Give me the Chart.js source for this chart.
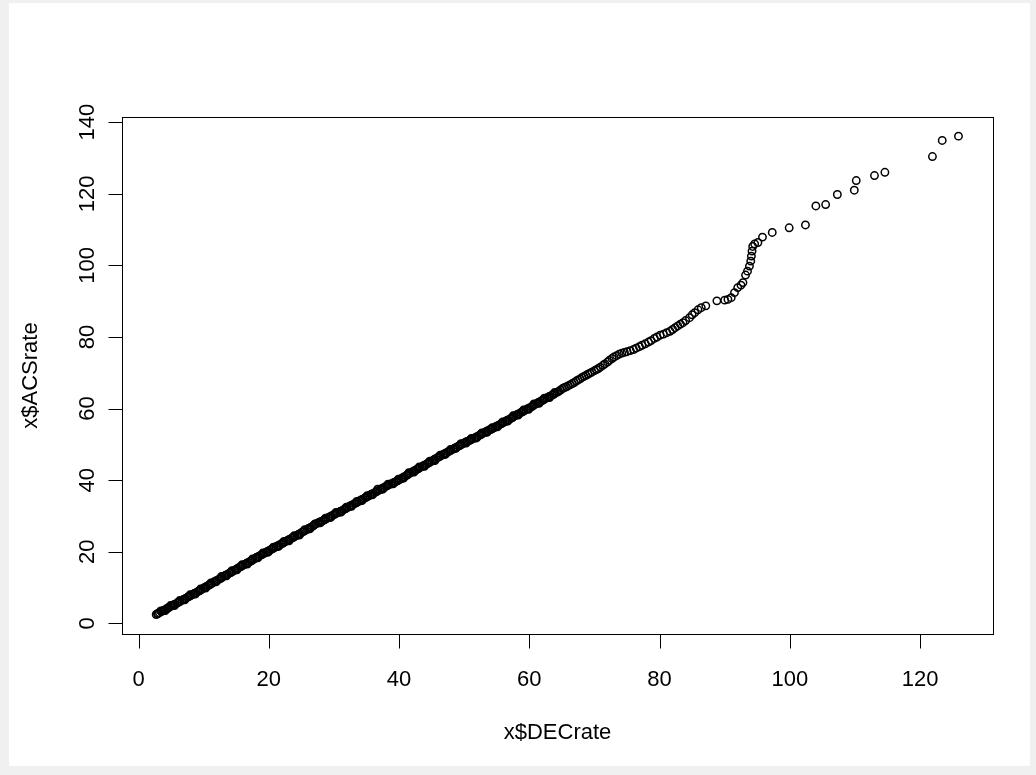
<!DOCTYPE html>
<html>
<head>
<meta charset="utf-8">
<script src="https://cdn.jsdelivr.net/npm/chart.js@4"></script>
<style>
  html, body { margin: 0; padding: 0; background: #f0f0f0; }
  #frame { position: absolute; left: 9px; top: 3px; width: 1021px; height: 763px; background: #fff; }
  canvas { display: block; }
</style>
</head>
<body>
<div id="frame"><canvas id="qqChart" width="1021" height="763"></canvas></div>
<script>
const xTicks = [0, 20, 40, 60, 80, 100, 120];
const yTicks = [0, 20, 40, 60, 80, 100, 120, 140];
const xTitle = 'x$DECrate';
const yTitle = 'x$ACSrate';

// DEC rates (x) and ACS rates (y)
const decRate = [
  2.7, 2.9, 3.0, 3.2, 3.5, 3.7, 3.8, 4.0, 4.3, 4.5,
  4.6, 4.8, 5.1, 5.3, 5.4, 5.6, 5.9, 6.1, 6.2, 6.4,
  6.7, 6.9, 7.0, 7.2, 7.5, 7.7, 7.8, 8.0, 8.3, 8.5,
  8.6, 8.8, 9.1, 9.3, 9.4, 9.6, 9.9, 10.1, 10.2, 10.4,
  10.7, 10.9, 11.0, 11.2, 11.5, 11.7, 11.8, 12.0, 12.3, 12.5,
  12.6, 12.8, 13.1, 13.3, 13.4, 13.6, 13.9, 14.1, 14.2, 14.4,
  14.7, 14.9, 15.0, 15.2, 15.5, 15.7, 15.8, 16.0, 16.3, 16.5,
  16.6, 16.8, 17.1, 17.3, 17.4, 17.6, 17.9, 18.1, 18.2, 18.4,
  18.7, 18.9, 19.0, 19.2, 19.5, 19.7, 19.8, 20.0, 20.3, 20.5,
  20.6, 20.8, 21.1, 21.3, 21.4, 21.6, 21.9, 22.1, 22.2, 22.4,
  22.7, 22.9, 23.0, 23.2, 23.5, 23.7, 23.8, 24.0, 24.3, 24.5,
  24.6, 24.8, 25.1, 25.3, 25.4, 25.6, 25.9, 26.1, 26.2, 26.4,
  26.7, 26.9, 27.0, 27.2, 27.5, 27.7, 27.8, 28.0, 28.3, 28.5,
  28.6, 28.8, 29.1, 29.3, 29.4, 29.6, 29.9, 30.1, 30.2, 30.4,
  30.7, 30.9, 31.0, 31.2, 31.5, 31.7, 31.8, 32.0, 32.3, 32.5,
  32.6, 32.8, 33.1, 33.3, 33.4, 33.6, 33.9, 34.1, 34.2, 34.4,
  34.7, 34.9, 35.0, 35.2, 35.5, 35.7, 35.8, 36.0, 36.3, 36.5,
  36.6, 36.8, 37.1, 37.3, 37.4, 37.6, 37.9, 38.1, 38.2, 38.4,
  38.7, 38.9, 39.0, 39.2, 39.5, 39.7, 39.8, 40.0, 40.3, 40.5,
  40.6, 40.8, 41.1, 41.3, 41.4, 41.6, 41.9, 42.1, 42.2, 42.4,
  42.7, 42.9, 43.0, 43.2, 43.5, 43.7, 43.8, 44.0, 44.3, 44.5,
  44.6, 44.8, 45.1, 45.3, 45.4, 45.6, 45.9, 46.1, 46.2, 46.4,
  46.7, 46.9, 47.0, 47.2, 47.5, 47.7, 47.8, 48.0, 48.3, 48.5,
  48.6, 48.8, 49.1, 49.3, 49.4, 49.6, 49.9, 50.1, 50.2, 50.4,
  50.7, 50.9, 51.0, 51.2, 51.5, 51.7, 51.8, 52.0, 52.3, 52.5,
  52.6, 52.8, 53.1, 53.3, 53.4, 53.6, 53.9, 54.1, 54.2, 54.4,
  54.7, 54.9, 55.0, 55.2, 55.5, 55.7, 55.8, 56.0, 56.3, 56.5,
  56.6, 56.8, 57.1, 57.3, 57.4, 57.6, 57.9, 58.1, 58.2, 58.4,
  58.7, 58.9, 59.0, 59.2, 59.5, 59.7, 59.8, 60.0, 60.3, 60.5,
  60.6, 60.8, 61.1, 61.3, 61.4, 61.6, 61.9, 62.1, 62.2, 62.4,
  62.7, 62.9, 63.0, 63.2, 63.5, 63.7, 63.8, 64.0, 64.3, 64.5,
  64.8, 65.1, 65.4, 65.7, 66.0, 66.3, 66.6, 66.9, 67.2, 67.5,
  67.8, 68.1, 68.4, 68.7, 69.0, 69.3, 69.6, 70.0, 70.3, 70.6,
  70.9, 71.3, 71.6, 72.0, 72.3, 72.7, 73.0, 73.4, 73.8, 74.2,
  74.6, 75.0, 75.5, 76.0, 76.4, 76.9, 77.3, 77.8, 78.3, 78.7,
  79.2, 79.6, 80.1, 80.6, 81.1, 81.6, 82.0, 82.4, 82.8, 83.2,
  83.6, 84.0, 84.6, 85.0, 85.4, 85.9, 86.4, 87.1,
  88.8, 90.0, 90.5, 91.0, 91.5, 92.0, 92.5, 92.8, 93.2, 93.5,
  93.8, 94.0, 94.1, 94.2, 94.3, 94.6, 95.1, 95.8, 97.3, 99.9,
  102.4, 104.0, 105.5, 107.3, 109.9, 110.2, 113.0, 114.6, 121.9, 123.4,
  125.9
];
const acsRate = [
  2.5, 2.7, 2.8, 3.0, 3.3, 3.5, 3.6, 3.8, 4.1, 4.3,
  4.4, 4.6, 4.9, 5.1, 5.2, 5.4, 5.7, 5.9, 6.0, 6.2,
  6.5, 6.7, 6.8, 7.0, 7.3, 7.5, 7.6, 7.8, 8.1, 8.3,
  8.4, 8.6, 8.9, 9.1, 9.2, 9.4, 9.8, 10.0, 10.1, 10.3,
  10.6, 10.8, 10.9, 11.1, 11.5, 11.7, 11.8, 12.0, 12.3, 12.5,
  12.6, 12.8, 13.2, 13.4, 13.5, 13.7, 14.0, 14.2, 14.3, 14.5,
  14.8, 15.0, 15.1, 15.4, 15.7, 15.9, 16.0, 16.2, 16.5, 16.7,
  16.8, 17.0, 17.3, 17.5, 17.6, 17.8, 18.2, 18.4, 18.5, 18.7,
  19.0, 19.2, 19.3, 19.5, 19.8, 20.0, 20.1, 20.3, 20.6, 20.8,
  20.9, 21.1, 21.4, 21.6, 21.7, 21.9, 22.2, 22.4, 22.5, 22.7,
  23.0, 23.2, 23.3, 23.5, 23.8, 24.0, 24.1, 24.3, 24.6, 24.8,
  24.9, 25.1, 25.5, 25.7, 25.8, 26.0, 26.3, 26.5, 26.6, 26.8,
  27.1, 27.4, 27.6, 27.8, 28.0, 28.2, 28.3, 28.5, 28.7, 28.9,
  29.0, 29.2, 29.5, 29.7, 29.8, 30.0, 30.3, 30.5, 30.6, 30.8,
  31.0, 31.2, 31.3, 31.5, 31.8, 32.0, 32.1, 32.3, 32.6, 32.8,
  32.9, 33.1, 33.4, 33.6, 33.7, 33.9, 34.2, 34.4, 34.5, 34.7,
  35.0, 35.2, 35.3, 35.5, 35.8, 36.0, 36.1, 36.3, 36.6, 36.8,
  36.9, 37.1, 37.4, 37.6, 37.7, 37.9, 38.2, 38.4, 38.5, 38.7,
  38.9, 39.1, 39.2, 39.4, 39.6, 39.8, 39.9, 40.1, 40.4, 40.6,
  40.8, 41.0, 41.3, 41.5, 41.7, 41.9, 42.2, 42.4, 42.5, 42.7,
  43.0, 43.2, 43.3, 43.5, 43.8, 44.0, 44.1, 44.3, 44.6, 44.8,
  44.9, 45.1, 45.4, 45.6, 45.8, 46.0, 46.3, 46.5, 46.6, 46.8,
  47.1, 47.3, 47.4, 47.6, 47.9, 48.1, 48.2, 48.4, 48.7, 48.9,
  49.0, 49.2, 49.5, 49.7, 49.8, 50.0, 50.3, 50.5, 50.6, 50.8,
  51.0, 51.2, 51.3, 51.5, 51.7, 51.9, 52.0, 52.2, 52.5, 52.7,
  52.8, 53.0, 53.3, 53.5, 53.6, 53.8, 54.1, 54.2, 54.3, 54.5,
  54.8, 55.0, 55.1, 55.3, 55.6, 55.8, 55.9, 56.1, 56.4, 56.6,
  56.7, 56.9, 57.2, 57.4, 57.5, 57.8, 58.1, 58.3, 58.4, 58.6,
  58.9, 59.1, 59.2, 59.4, 59.7, 59.9, 60.0, 60.2, 60.5, 60.7,
  60.9, 61.1, 61.4, 61.6, 61.7, 61.9, 62.2, 62.4, 62.5, 62.7,
  63.0, 63.2, 63.3, 63.5, 63.8, 64.0, 64.1, 64.3, 64.6, 64.8,
  65.2, 65.6, 65.9, 66.1, 66.4, 66.7, 67.0, 67.3, 67.7, 68.0,
  68.3, 68.7, 69.0, 69.3, 69.6, 69.9, 70.2, 70.6, 70.9, 71.2,
  71.6, 72.1, 72.5, 73.0, 73.5, 74.0, 74.4, 74.8, 75.2, 75.5,
  75.7, 75.9, 76.2, 76.5, 76.9, 77.3, 77.7, 78.1, 78.6, 79.0,
  79.6, 80.0, 80.5, 80.8, 81.2, 81.6, 82.1, 82.6, 83.1, 83.6,
  84.0, 84.6, 85.4, 86.2, 86.8, 87.6, 88.2, 88.7,
  90.1, 90.3, 90.5, 91.0, 92.4, 93.8, 94.5, 95.2, 97.3, 98.4,
  99.8, 101.2, 102.6, 104.0, 105.3, 106.0, 106.4, 107.9, 109.2, 110.5,
  111.3, 116.6, 117.0, 119.8, 121.0, 123.7, 125.1, 126.0, 130.4, 134.9,
  136.1
];

// more counties in the dense band, lying slightly off the main trail
const decRateDense = [
  3.4, 4.1, 4.9, 5.5, 6.3, 7.1, 7.9, 8.7, 9.5, 10.3,
  11.1, 11.9, 12.7, 13.5, 14.3, 15.1, 15.9, 16.7, 17.5, 18.3,
  19.1, 19.9, 20.7, 21.5, 22.3, 23.1, 23.9, 24.7, 25.5, 26.3,
  27.1, 27.9, 28.7, 29.5, 30.3, 31.1, 31.9, 32.7, 33.5, 34.3,
  35.1, 35.9, 36.7, 37.5, 38.3, 39.1, 39.9, 40.7, 41.5, 42.3,
  43.1, 43.9, 44.7, 45.5, 46.3, 47.1, 47.9, 48.7, 49.5, 50.3,
  51.1, 51.9, 52.7, 53.5, 54.3, 55.1, 55.9, 56.7, 57.5, 58.3,
  59.1, 59.9, 60.7, 61.5, 62.3, 63.1, 63.9
];
const acsRateDense = [
  3.5, 3.6, 5.0, 5.0, 6.4, 6.6, 8.0, 8.2, 9.6, 9.9,
  11.3, 11.6, 13.1, 13.3, 14.7, 15.0, 16.4, 16.6, 18.0, 18.3,
  19.7, 19.9, 21.3, 21.5, 22.9, 23.1, 24.5, 24.7, 26.2, 26.4,
  27.8, 28.1, 29.4, 29.6, 31.0, 31.1, 32.5, 32.7, 34.1, 34.3,
  35.7, 35.9, 37.5, 37.5, 38.9, 39.0, 40.3, 40.6, 42.1, 42.3,
  43.7, 43.9, 45.3, 45.5, 47.0, 47.2, 48.6, 48.9, 50.2, 50.4,
  51.7, 51.8, 53.2, 53.4, 54.7, 54.9, 56.3, 56.5, 58.0, 58.2,
  59.6, 59.8, 61.3, 61.5, 62.9, 63.1, 64.5
];

const FONT = '22px "Liberation Sans", Arial, sans-serif';

// R style box, axes and labels drawn from the chart's own scales
const rAxes = {
  id: 'rAxes',
  afterDraw(chart) {
    const { ctx, chartArea: a, scales: { x, y } } = chart;
    ctx.save();
    ctx.strokeStyle = '#000';
    ctx.lineWidth = 1;
    ctx.strokeRect(Math.round(a.left) + 0.5, Math.round(a.top) + 0.5,
      Math.round(a.right - a.left), Math.round(a.bottom - a.top));

    ctx.fillStyle = '#000';
    ctx.font = FONT;
    const bottom = Math.round(a.bottom) + 0.5;
    const left = Math.round(a.left) + 0.5;

    // x axis
    ctx.beginPath();
    ctx.moveTo(x.getPixelForValue(xTicks[0]), bottom);
    ctx.lineTo(x.getPixelForValue(xTicks[xTicks.length - 1]), bottom);
    xTicks.forEach(v => {
      const px = Math.round(x.getPixelForValue(v)) + 0.5;
      ctx.moveTo(px, bottom);
      ctx.lineTo(px, bottom + 14);
    });
    ctx.stroke();
    ctx.textAlign = 'center';
    ctx.textBaseline = 'middle';
    xTicks.forEach(v => ctx.fillText(String(v), x.getPixelForValue(v), a.bottom + 46));

    // y axis
    ctx.beginPath();
    ctx.moveTo(left, y.getPixelForValue(yTicks[0]));
    ctx.lineTo(left, y.getPixelForValue(yTicks[yTicks.length - 1]));
    yTicks.forEach(v => {
      const py = Math.round(y.getPixelForValue(v)) + 0.5;
      ctx.moveTo(left, py);
      ctx.lineTo(left - 14, py);
    });
    ctx.stroke();
    yTicks.forEach(v => {
      ctx.save();
      ctx.translate(a.left - 34, y.getPixelForValue(v));
      ctx.rotate(-Math.PI / 2);
      ctx.fillText(String(v), 0, 0);
      ctx.restore();
    });

    // titles
    ctx.fillText(xTitle, (a.left + a.right) / 2, a.bottom + 99);
    ctx.save();
    ctx.translate(a.left - 91, (a.top + a.bottom) / 2);
    ctx.rotate(-Math.PI / 2);
    ctx.fillText(yTitle, 0, 0);
    ctx.restore();
    ctx.restore();
  }
};

const points = decRate.map((v, i) => ({ x: v, y: acsRate[i] }))
  .concat(decRateDense.map((v, i) => ({ x: v, y: acsRateDense[i] })));

const qqCtx = document.getElementById('qqChart').getContext('2d');
const qqChart = new Chart(qqCtx, {
  type: 'scatter',
  data: {
    datasets: [{
      data: points,
      pointStyle: 'circle',
      pointRadius: 3.7,
      pointHoverRadius: 3.7,
      borderWidth: 1.5,
      borderColor: '#000',
      backgroundColor: 'rgba(0,0,0,0)'
    }]
  },
  options: {
    responsive: false,
    animation: false,
    devicePixelRatio: 1,
    events: [],
    layout: { padding: { left: 113, top: 114, right: 37, bottom: 132 } },
    plugins: {
      legend: { display: false },
      tooltip: { enabled: false }
    },
    scales: {
      x: { type: 'linear', min: -2.55, max: 131.2, display: false },
      y: { type: 'linear', min: -2.95, max: 141.45, display: false }
    }
  },
  plugins: [rAxes]
});
</script>
</body>
</html>
